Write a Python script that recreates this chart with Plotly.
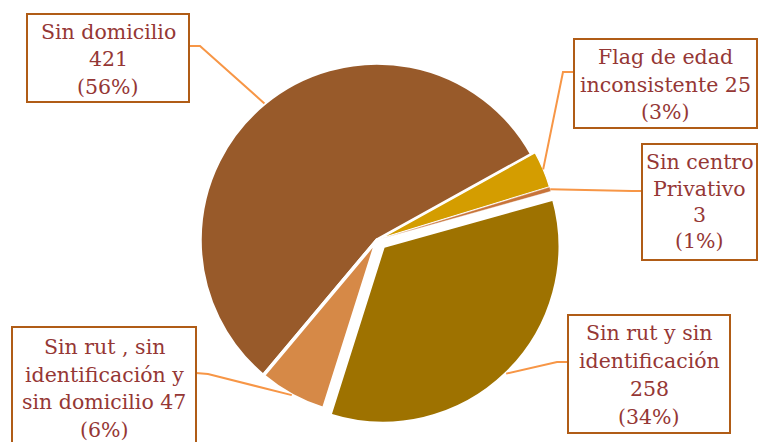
import math
import plotly.graph_objects as go

# ---- data ----
categorias = [
    "Sin domicilio",
    "Flag de edad inconsistente",
    "Sin centro Privativo",
    "Sin rut y sin identificación",
    "Sin rut , sin identificación y sin domicilio",
]
valores = [421, 25, 3, 258, 47]
porcentajes = ["56%", "3%", "1%", "34%", "6%"]
# label lines; {v} = count, {p} = percentage
plantillas = [
    ["Sin domicilio", "{v}", "({p})"],
    ["Flag de edad", "inconsistente {v}", "({p})"],
    ["Sin centro", "Privativo", "{v}", "({p})"],
    ["Sin rut y sin", "identificación", "{v}", "({p})"],
    ["Sin rut , sin", "identificación y", "sin domicilio {v}", "({p})"],
]

# ---- styling ----
colores = ["#985A2A", "#D49D00", "#C8743A", "#9E7200", "#D68947"]
separacion = [0.0, 0.02, 0.02, 0.05, 0.0]
bordes = [3.5, 1.2, 0.4, 3.5, 3.5]
color_texto = "#953735"
color_borde = "#B05C16"
color_guia = "#F79646"

W, H = 758, 442
CX, CY, R = 377, 240, 177          # pie centre / radius in pixels
ROT = 220                          # start angle of first slice (deg, clockwise from 12)
max_pull = max(separacion)
half = R * (1 + max_pull)


def px(x):
    return x / W


def py(y):
    return 1 - y / H


fig = go.Figure(go.Pie(
    labels=categorias,
    values=valores,
    sort=False,
    direction="clockwise",
    rotation=ROT,
    pull=separacion,
    marker=dict(colors=colores, line=dict(color="white", width=bordes)),
    textinfo="none",
    hoverinfo="label+value+percent",
    domain=dict(x=[px(CX - half), px(CX + half)],
                y=[py(CY + half), py(CY - half)]),
    showlegend=False,
))

# label boxes (pixels): x0, y0, x1, y1, first line centre, line spacing
cajas = [
    (27, 14, 189, 102, 32, 27.5),
    (574, 39, 757, 128, 57, 27.5),
    (642, 144, 757, 260, 162, 26.5),
    (568, 315, 730, 433, 333, 28),
    (12, 327, 196, 450, 347, 27.5),
]
# leader start point on the box and elbow point
guias = [
    ((189, 46), (200, 46)),
    ((574, 72), (563, 72)),
    ((642, 191), (632, 191)),
    ((568, 362), (557, 362)),
    ((196, 373), (208, 374)),
]

total = sum(valores)
acum = 0
shapes = []
annotations = []
for i, v in enumerate(valores):
    mid = math.radians(ROT + (acum + v / 2) / total * 360)
    acum += v
    rr = R * (1 + separacion[i])
    ex = CX + rr * math.sin(mid)
    ey = CY - rr * math.cos(mid)
    (sx, sy), (bx, by) = guias[i]
    shapes.append(dict(
        type="path", xref="paper", yref="paper",
        path=f"M {px(sx)} {py(sy)} L {px(bx)} {py(by)} L {px(ex)} {py(ey)}",
        line=dict(color=color_guia, width=2),
    ))
    x0, y0, x1, y1, first, step = cajas[i]
    shapes.append(dict(
        type="rect", xref="paper", yref="paper",
        x0=px(x0), x1=px(x1), y0=py(y1), y1=py(y0),
        line=dict(color=color_borde, width=2), fillcolor="white",
    ))
    for k, linea in enumerate(plantillas[i]):
        annotations.append(dict(
            xref="paper", yref="paper",
            x=px((x0 + x1) / 2), y=py(first + k * step),
            xanchor="center", yanchor="middle",
            text=linea.format(v=v, p=porcentajes[i]),
            showarrow=False,
            font=dict(family="DejaVu Serif", size=20.5, color=color_texto),
        ))

fig.update_layout(
    width=W, height=H,
    margin=dict(l=0, r=0, t=0, b=0),
    paper_bgcolor="white",
    plot_bgcolor="white",
    shapes=shapes,
    annotations=annotations,
)

fig.write_html("out.html")
